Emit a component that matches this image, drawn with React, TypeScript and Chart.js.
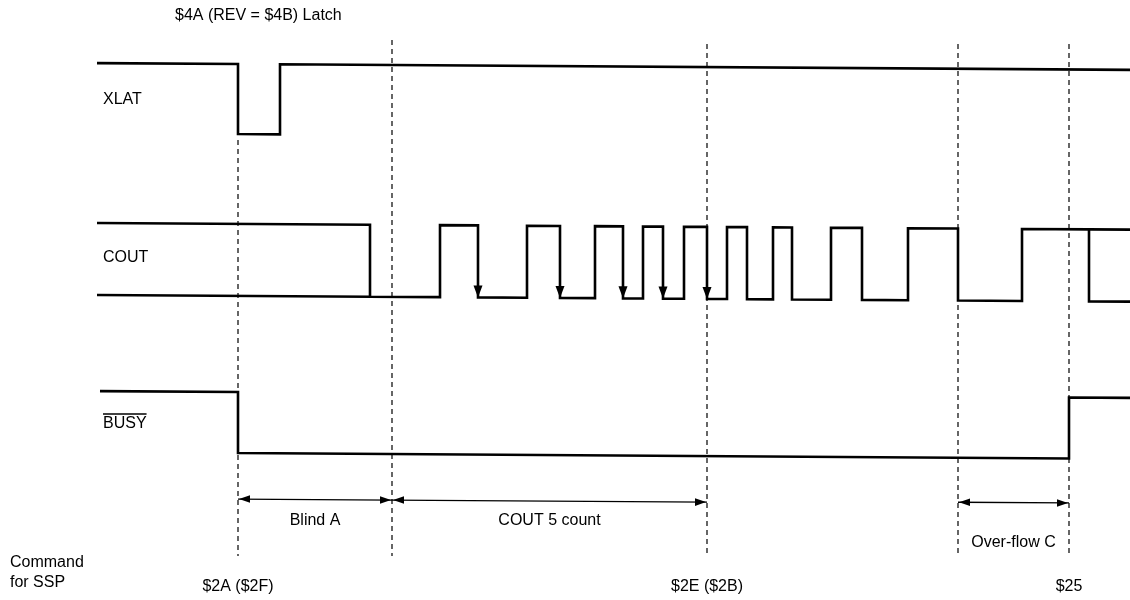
import React, { useEffect, useRef } from "react";
import { Chart, registerables } from "chart.js";

Chart.register(...registerables);

// ---- data (time units along the x axis) ----
const signalNames = ["XLAT", "COUT", "BUSY"];
const xlatTimes = [97, 238, 280, 1130];
const xlatLevels = [1, 0, 1, 1];
const coutTimes = [97, 370, 440, 478, 527, 560, 595, 623, 643, 663, 684, 707, 727, 747, 773, 792, 831, 862, 908, 958, 1022, 1089, 1130];
const coutLevels = [1, 0, 1, 0, 1, 0, 1, 0, 1, 0, 1, 0, 1, 0, 1, 0, 1, 0, 1, 0, 1, 0, 0];
const coutUnknownLowTimes = [97, 370];
const coutUnknownHighTimes = [1089, 1130];
const busyTimes = [100, 238, 1069, 1130];
const busyLevels = [1, 0, 1, 1];
const countedEdges = [478, 560, 623, 663, 707];
const markerTimes = [238, 392, 707, 958, 1069];
const spanStarts = [238, 392, 958];
const spanEnds = [392, 707, 1069];
const spanLabels = ["Blind A", "COUT 5 count", "Over-flow C"];
const commandTimes = [238, 707, 1069];
const commandLabels = ["$2A ($2F)", "$2E ($2B)", "$25"];
const titleText = "$4A (REV = $4B) Latch";

// ---- layout ----
const SKEW = 0.0065;
const lanes = [
  { high: 62.5, low: 132.5 },
  { high: 222.3, low: 294.3 },
  { high: 390.5, low: 451.5 },
];
const laneLabelY = [100, 258, 424];
const markerTop = [140, 40, 44, 44, 44];
const markerBottom = 556;
const spanY = [497.5, 497.5, 496];
const spanLabelY = [521, 521, 543];
const FONT = '16px "Liberation Sans", Arial, sans-serif';

const yAt = (lane: number, level: number, t: number) =>
  (level ? lanes[lane].high : lanes[lane].low) + SKEW * t;

function wave(times: number[], levels: number[], lane: number) {
  const pts: { x: number; y: number }[] = [];
  times.forEach((t, i) => {
    if (i > 0 && levels[i - 1] !== levels[i]) pts.push({ x: t, y: yAt(lane, levels[i - 1], t) });
    pts.push({ x: t, y: yAt(lane, levels[i], t) });
  });
  return pts;
}

export default function App() {
  const ref = useRef<HTMLCanvasElement | null>(null);
  useEffect(() => {
    document.body.style.margin = "0";
    const sig = { borderColor: "#000", borderWidth: 2.6, pointRadius: 0, showLine: true, fill: false };
    const datasets: any[] = [
      { ...sig, data: wave(xlatTimes, xlatLevels, 0) },
      { ...sig, data: wave(coutTimes, coutLevels, 1) },
      { ...sig, data: wave(coutUnknownLowTimes, [0, 0], 1) },
      { ...sig, data: wave(coutUnknownHighTimes, [1, 1], 1) },
      { ...sig, data: wave(busyTimes, busyLevels, 2) },
    ];
    markerTimes.forEach((t, i) => {
      datasets.push({
        borderColor: "#000", borderWidth: 1.2, borderDash: [5, 4], pointRadius: 0, showLine: true,
        data: [{ x: t, y: markerTop[i] }, { x: t, y: markerBottom }],
      });
    });
    spanStarts.forEach((s, i) => {
      datasets.push({
        borderColor: "#000", borderWidth: 1.3, pointRadius: 0, showLine: true,
        data: [{ x: s, y: spanY[i] + SKEW * s }, { x: spanEnds[i], y: spanY[i] + SKEW * spanEnds[i] }],
      });
    });

    const overlay = {
      id: "overlay",
      afterDatasetsDraw(chart: any) {
        const { ctx, scales } = chart;
        const X = (v: number) => scales.x.getPixelForValue(v);
        const Y = (v: number) => scales.y.getPixelForValue(v);
        ctx.save();
        ctx.fillStyle = "#000";
        ctx.strokeStyle = "#000";
        // counted edge arrowheads
        countedEdges.forEach((t) => {
          const x = X(t), y = Y(yAt(1, 0, t));
          ctx.beginPath();
          ctx.moveTo(x, y);
          ctx.lineTo(x - 4.5, y - 12);
          ctx.lineTo(x + 4.5, y - 12);
          ctx.closePath();
          ctx.fill();
        });
        // dimension arrowheads
        const head = (x: number, y: number, dir: number) => {
          ctx.beginPath();
          ctx.moveTo(x, y);
          ctx.lineTo(x + dir * 11, y - 3.8);
          ctx.lineTo(x + dir * 11, y + 3.8);
          ctx.closePath();
          ctx.fill();
        };
        spanStarts.forEach((s, i) => {
          const e = spanEnds[i];
          head(X(s) + 1, Y(spanY[i] + SKEW * s), 1);
          head(X(e) - 1, Y(spanY[i] + SKEW * e), -1);
        });
        ctx.font = FONT;
        ctx.textBaseline = "middle";
        // span labels
        ctx.textAlign = "center";
        spanStarts.forEach((s, i) => {
          ctx.fillText(spanLabels[i], X((s + spanEnds[i]) / 2), Y(spanLabelY[i]));
        });
        // command labels
        commandTimes.forEach((t, i) => ctx.fillText(commandLabels[i], X(t), Y(587)));
        // left labels
        ctx.textAlign = "left";
        ctx.fillText("Command", 10, 563);
        ctx.fillText("for SSP", 10, 583);
        ctx.fillText(titleText, 175, 16);
        signalNames.forEach((n, i) => {
          ctx.fillText(n, 103, laneLabelY[i]);
          if (n === "BUSY") {
            const w = ctx.measureText(n).width;
            ctx.lineWidth = 1.3;
            ctx.beginPath();
            ctx.moveTo(103, laneLabelY[i] - 10);
            ctx.lineTo(103 + w, laneLabelY[i] - 10);
            ctx.stroke();
          }
        });
        ctx.restore();
      },
    };

    const chart = new Chart(ref.current!, {
      type: "scatter",
      data: { datasets },
      options: {
        animation: false,
        responsive: false,
        devicePixelRatio: 1,
        layout: { padding: 0 },
        elements: { line: { tension: 0, borderCapStyle: "butt", borderJoinStyle: "miter" } },
        scales: {
          x: { type: "linear", min: 0, max: 1130, display: false },
          y: { type: "linear", min: 0, max: 600, reverse: true, display: false },
        },
        plugins: { legend: { display: false }, tooltip: { enabled: false } },
      },
      plugins: [overlay],
    });
    return () => chart.destroy();
  }, []);
  return (
    <div style={{ position: "absolute", left: 0, top: 0, width: 1130, height: 600, background: "#fff" }}>
      <canvas ref={ref} width={1130} height={600} />
    </div>
  );
}
